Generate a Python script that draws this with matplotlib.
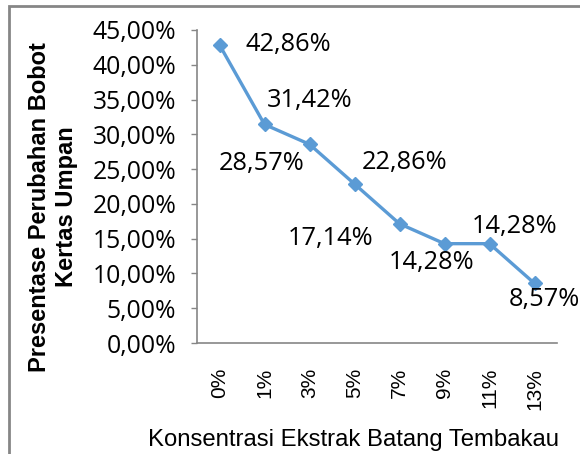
import matplotlib
matplotlib.use("Agg")
import matplotlib.pyplot as plt
from matplotlib.patches import Rectangle
from matplotlib.ticker import FuncFormatter, MultipleLocator

# data
categories = ["0%", "1%", "3%", "5%", "7%", "9%", "11%", "13%"]
values = [42.86, 31.42, 28.57, 22.86, 17.14, 14.28, 14.28, 8.57]
labels = ["42,86%", "31,42%", "28,57%", "22,86%", "17,14%", "14,28%", "14,28%", "8,57%"]
# label offsets in pixels (dx, dy) from the point
offsets = [(69, 0), (45, 24), (-48, -19), (50, 21), (-69, -15), (-13, -19), (25, 17), (10, -16)]

W, H = 580, 454
fig = plt.figure(figsize=(W / 100, H / 100), dpi=100)
ax = fig.add_axes([197 / W, 1 - 343 / H, 360 / W, 313 / H])

grey = "#868686"
blue = "#5B9BD5"
num_font = "Open Sans"

x = range(len(categories))
ax.plot(x, values, color=blue, lw=2.4, marker="D", ms=7, mec=blue, mfc=blue)

for i, (v, t) in enumerate(zip(values, labels)):
    dx, dy = offsets[i]
    ax.annotate(t, (i, v), xytext=(dx, dy), textcoords="offset pixels",
                ha="center", va="center", fontsize=18.3, family=num_font, color="black")

ax.set_xlim(-0.5, len(categories) - 0.5)
ax.set_ylim(0, 45)
ax.yaxis.set_major_locator(MultipleLocator(5))
ax.yaxis.set_major_formatter(FuncFormatter(lambda v, p: f"{v:.2f}%".replace(".", ",")))
ax.set_xticks(list(x))
ax.set_xticklabels(categories, rotation=90, family="Liberation Sans", fontsize=15)
for lab in ax.get_yticklabels():
    lab.set_family(num_font)
    lab.set_fontsize(17.8)

ax.tick_params(axis="y", length=4.5, width=1, color=grey, direction="out", pad=10.5)
ax.tick_params(axis="x", length=0, pad=18)
for s in ["top", "right"]:
    ax.spines[s].set_visible(False)
for s in ["left", "bottom"]:
    ax.spines[s].set_color(grey)
    ax.spines[s].set_linewidth(1.2)

fig.text(53 / W, 1 - 207 / H, "Presentase Perubahan Bobot\nKertas Umpan", rotation=90,
         ha="center", va="center", multialignment="center", fontsize=17,
         fontweight="bold", family="Liberation Sans", linespacing=1.22)
fig.text(354 / W, 1 - 440 / H, "Konsentrasi Ekstrak Batang Tembakau", ha="center", va="center",
         fontsize=17.2, family="Liberation Sans")

# outer chart border
fig.patches.append(Rectangle((8.5 / W, -0.1), 1.2, 1 - 5.5 / H + 0.1, transform=fig.transFigure,
                             fill=False, edgecolor=grey, lw=2))

fig.savefig("out.png", dpi=100)
